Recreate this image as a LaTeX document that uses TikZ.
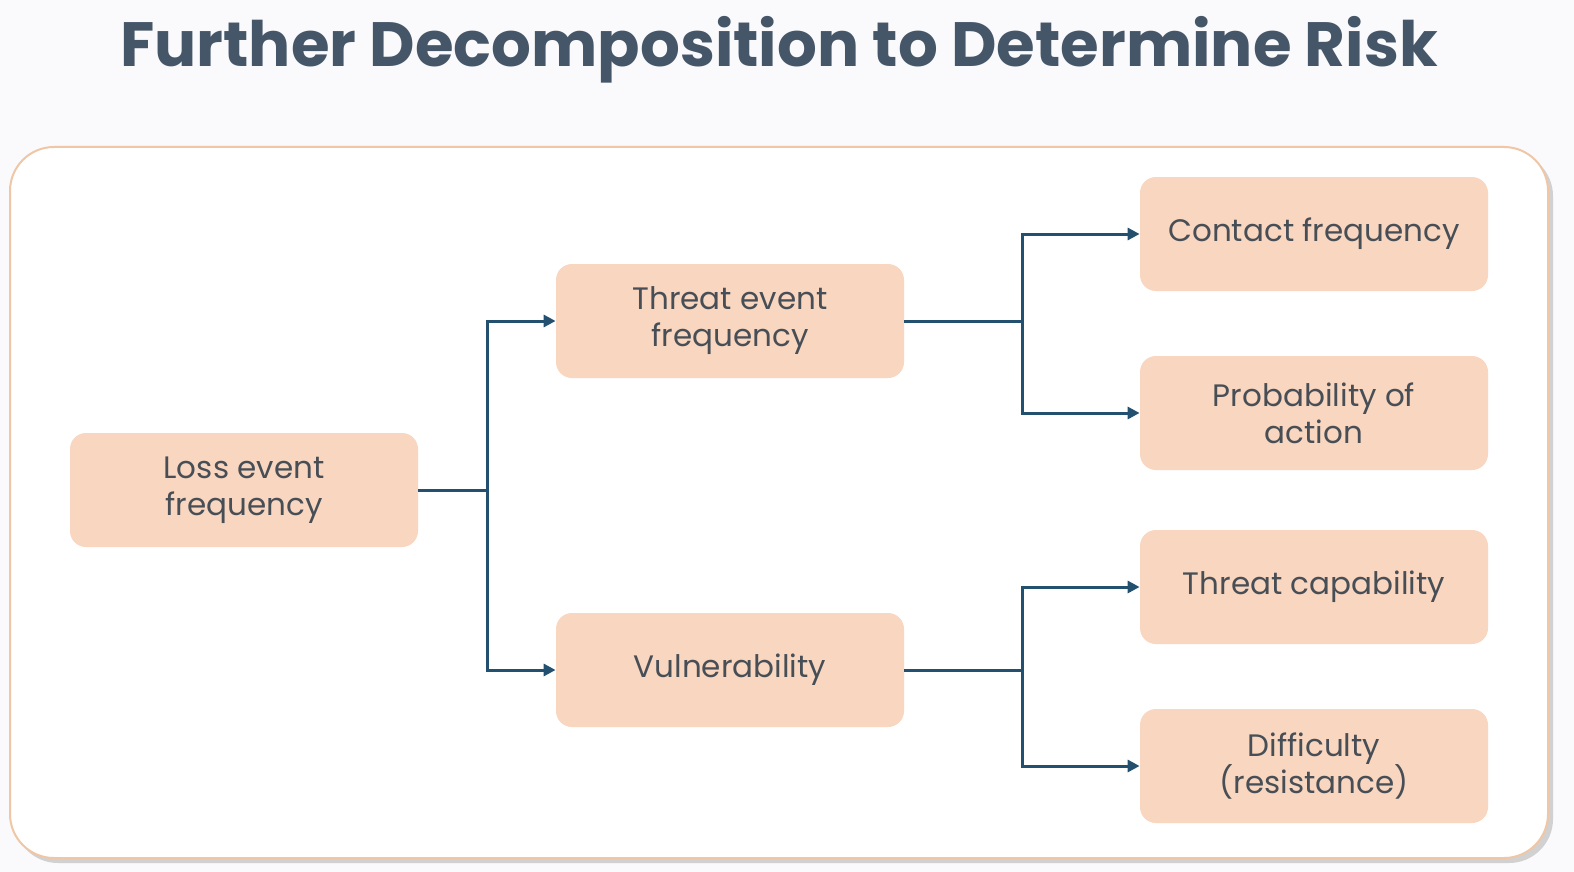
\documentclass[tikz,border=0pt]{standalone}
\usepackage{fontspec}
\setmainfont{Poppins}
\newfontfamily\titlefont{Poppins}
\usetikzlibrary{arrows.meta,shadows}
\definecolor{bg}{HTML}{FAFAFC}
\definecolor{boxfill}{HTML}{F9D6BF}
\definecolor{panelline}{HTML}{EFC7A6}
\definecolor{linkc}{HTML}{23506F}
\definecolor{titlec}{HTML}{465669}
\definecolor{textc}{HTML}{474E56}
\tikzset{
  factor/.style={draw=none, fill=boxfill, rounded corners=8pt, minimum width=174pt, minimum height=57pt, align=center, text=textc, font=\fontsize{15.5}{18.5}\selectfont},
  link/.style={draw=linkc, line width=1.5pt},
  linkarrow/.style={link, -{Triangle[length=6pt,width=6pt]}},
}
\begin{document}
\begin{tikzpicture}[x=0.5pt,y=-0.5pt]
\useasboundingbox (0,0) rectangle (1574,872);
\fill[bg] (0,0) rectangle (1574,872);
% panel
\fill[black!18, rounded corners=22pt] (14,152) rectangle (1553,863);
\filldraw[fill=white, draw=panelline, line width=1pt, rounded corners=22pt] (10,147) rectangle (1548,858);
% title
\node (title) at (779,50) {\titlefont\bfseries\color{titlec}\fontsize{31.3}{34}\selectfont Further Decomposition to Determine Risk};
% nodes
\node[factor] (lef) at (244,490) {Loss event\\frequency};
\node[factor] (tef) at (730,321) {Threat event\\frequency};
\node[factor] (vul) at (730,670) {Vulnerability};
\node[factor] (cf) at (1314,234) {Contact frequency};
\node[factor] (pa) at (1314,413) {Probability of\\action};
\node[factor] (tc) at (1314,587) {Threat capability};
\node[factor] (dr) at (1314,766) {Difficulty\\(resistance)};
% branch coordinates
\coordinate (b1) at (487,490);
\coordinate (b2) at (1022,321);
\coordinate (b3) at (1022,670);
% connectors
\draw[link] (lef.east) -- (b1);
\draw[linkarrow] (b1) |- (tef.west);
\draw[linkarrow] (b1) |- (vul.west);
\draw[link] (tef.east) -- (b2);
\draw[linkarrow] (b2) |- (cf.west);
\draw[linkarrow] (b2) |- (pa.west);
\draw[link] (vul.east) -- (b3);
\draw[linkarrow] (b3) |- (tc.west);
\draw[linkarrow] (b3) |- (dr.west);
\end{tikzpicture}
\end{document}
